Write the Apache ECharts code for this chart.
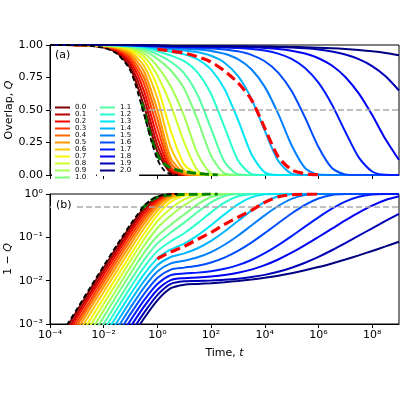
<!DOCTYPE html>
<html>
<head>
<meta charset="utf-8">
<script src="https://cdn.jsdelivr.net/npm/echarts@6/dist/echarts.min.js"></script>
<style>
html, body { margin: 0; padding: 0; background: #fff; }
#chart { width: 400px; height: 400px; }
</style>
</head>
<body>
<div id="chart"></div>
<script>
// time grid, log10(t)
var logT = [-4, -3.5, -3, -2.5, -2, -1.5, -1, -0.5, 0, 0.5, 1, 1.5, 2, 2.5, 3, 3.5, 4, 4.5, 5, 5.5, 6, 6.5, 7, 7.5, 8, 8.5, 9];

// 1 - Q, one array per curve
var d00 = [0.0002, 0.00063, 0.002, 0.0063, 0.0198, 0.0613, 0.181, 0.469, 0.82, 0.982, 0.999, 1, 1, 1, 1, 1, 1, 1, 1, 1, 1, 1, 1, 1, 1, 1, 1];
var d01 = [0.00017, 0.00052, 0.00166, 0.0052, 0.0165, 0.0511, 0.153, 0.408, 0.77, 0.972, 0.998, 1, 1, 1, 1, 1, 1, 1, 1, 1, 1, 1, 1, 1, 1, 1, 1];
var d02 = [0.00014, 0.00044, 0.00138, 0.0044, 0.0137, 0.0427, 0.129, 0.353, 0.71, 0.96, 0.997, 1, 1, 1, 1, 1, 1, 1, 1, 1, 1, 1, 1, 1, 1, 1, 1];
var d03 = [0.00011, 0.00035, 0.00112, 0.0035, 0.0111, 0.0348, 0.106, 0.298, 0.64, 0.94, 0.995, 1, 1, 1, 1, 1, 1, 1, 1, 1, 1, 1, 1, 1, 1, 1, 1];
var d04 = [0.000091, 0.00029, 0.00091, 0.0029, 0.0091, 0.0284, 0.087, 0.25, 0.57, 0.91, 0.992, 1, 1, 1, 1, 1, 1, 1, 1, 1, 1, 1, 1, 1, 1, 1, 1];
var d05 = [0.000072, 0.00023, 0.00072, 0.0023, 0.0072, 0.0225, 0.0695, 0.204, 0.5, 0.87, 0.985, 0.999, 1, 1, 1, 1, 1, 1, 1, 1, 1, 1, 1, 1, 1, 1, 1];
var d06 = [0.000055, 0.00017, 0.00055, 0.00174, 0.0055, 0.0172, 0.0535, 0.16, 0.41, 0.79, 0.965, 0.997, 1, 1, 1, 1, 1, 1, 1, 1, 1, 1, 1, 1, 1, 1, 1];
var d07 = [0.00004, 0.000126, 0.0004, 0.00126, 0.004, 0.0126, 0.0392, 0.119, 0.32, 0.66, 0.92, 0.99, 1, 1, 1, 1, 1, 1, 1, 1, 1, 1, 1, 1, 1, 1, 1];
var d08 = [0.0000288, 0.000091, 0.000288, 0.00091, 0.0029, 0.0092, 0.0291, 0.089, 0.235, 0.464, 0.749, 0.966, 0.9995, 1, 1, 1, 1, 1, 1, 1, 1, 1, 1, 1, 1, 1, 1];
var d09 = [0.0000204, 0.0000645, 0.000204, 0.000645, 0.00206, 0.0065, 0.0208, 0.0633, 0.164, 0.319, 0.549, 0.838, 0.9875, 1, 1, 1, 1, 1, 1, 1, 1, 1, 1, 1, 1, 1, 1];
var d10 = [0.0000145, 0.0000459, 0.000145, 0.000459, 0.00146, 0.00465, 0.0147, 0.0436, 0.107, 0.196, 0.336, 0.576, 0.852, 0.988, 1, 1, 1, 1, 1, 1, 1, 1, 1, 1, 1, 1, 1];
var d11 = [0.00001, 0.0000316, 0.0001, 0.000316, 0.00101, 0.00321, 0.0101, 0.0299, 0.0724, 0.129, 0.218, 0.385, 0.643, 0.898, 0.994, 1, 1, 1, 1, 1, 1, 1, 1, 1, 1, 1, 1];
var d12 = [0.00000708, 0.0000224, 0.0000708, 0.000224, 0.000712, 0.00225, 0.007, 0.0203, 0.048, 0.0808, 0.1245, 0.2124, 0.377, 0.631, 0.886, 0.992, 1, 1, 1, 1, 1, 1, 1, 1, 1, 1, 1];
var d13 = [0.00000501, 0.0000158, 0.0000501, 0.000158, 0.000502, 0.00158, 0.00488, 0.01403, 0.0327, 0.0524, 0.072, 0.111, 0.19, 0.338, 0.574, 0.838, 0.98, 1, 1, 1, 1, 1, 1, 1, 1, 1, 1];
var d14 = [0.00000355, 0.0000112, 0.0000355, 0.000112, 0.000355, 0.00111, 0.00342, 0.00978, 0.0227, 0.0351, 0.0426, 0.0559, 0.0827, 0.136, 0.238, 0.413, 0.659, 0.891, 0.99, 1, 1, 1, 1, 1, 1, 1, 1];
var d15 = [0.00000251, 0.00000794, 0.0000251, 0.0000794, 0.00025, 0.000787, 0.00241, 0.00692, 0.0162, 0.025, 0.0288, 0.0346, 0.0457, 0.0675, 0.109, 0.187, 0.322, 0.528, 0.771, 0.946, 0.997, 1, 1, 1, 1, 1, 1];
var d16 = [0.00000178, 0.00000563, 0.0000178, 0.0000563, 0.000177, 0.000556, 0.00171, 0.0049, 0.01156, 0.018, 0.02, 0.0222, 0.0263, 0.0341, 0.0486, 0.0755, 0.125, 0.212, 0.354, 0.558, 0.785, 0.946, 0.996, 1, 1, 1, 1];
var d17 = [0.00000126, 0.00000398, 0.0000126, 0.0000398, 0.000126, 0.000394, 0.00121, 0.0035, 0.0084, 0.01343, 0.01462, 0.01533, 0.01657, 0.0188, 0.0228, 0.03, 0.043, 0.0662, 0.107, 0.177, 0.29, 0.4575, 0.667, 0.864, 0.973, 0.9986, 1];
var d18 = [0.00000089, 0.00000281, 0.0000089, 0.0000281, 0.000089, 0.000281, 0.00086, 0.00251, 0.00617, 0.01033, 0.01141, 0.0118, 0.01244, 0.01347, 0.0152, 0.018, 0.0228, 0.0308, 0.0441, 0.066, 0.1017, 0.158, 0.246, 0.3725, 0.539, 0.7256, 0.885];
var d19 = [0.00000063, 0.00000199, 0.0000063, 0.0000199, 0.000063, 0.000199, 0.000612, 0.00181, 0.00464, 0.00841, 0.00967, 0.00985, 0.01012, 0.0105, 0.0111, 0.0121, 0.0136, 0.016, 0.0199, 0.0259, 0.0354, 0.0503, 0.0734, 0.1088, 0.162, 0.2404, 0.3497];
var d20 = [0.000000447, 0.00000141, 0.00000447, 0.0000141, 0.0000447, 0.000141, 0.000447, 0.00134, 0.00352, 0.00671, 0.00809, 0.00841, 0.00877, 0.00924, 0.00982, 0.0106, 0.01165, 0.01303, 0.0149, 0.01735, 0.0206, 0.025, 0.0307, 0.0384, 0.0485, 0.0617, 0.0792];

var curveNames = ['0.0', '0.1', '0.2', '0.3', '0.4', '0.5', '0.6', '0.7', '0.8', '0.9', '1.0',
                  '1.1', '1.2', '1.3', '1.4', '1.5', '1.6', '1.7', '1.8', '1.9', '2.0'];
var curves = [d00, d01, d02, d03, d04, d05, d06, d07, d08, d09, d10,
              d11, d12, d13, d14, d15, d16, d17, d18, d19, d20];

// dashed reference curves (1 - Q)
var blackLogT = [-4, -3.5, -3, -2.5, -2, -1.5, -1, -0.5, -0.25, 0, 0.25, 0.5, 0.75];
var blackD = [0.00022, 0.0007, 0.0022, 0.007, 0.022, 0.068, 0.2, 0.53, 0.72, 0.88, 0.965, 0.995, 1];
var greenLogT = [-0.6, -0.5, -0.25, 0, 0.25, 0.5, 0.75, 1, 1.25, 1.5, 1.75, 2, 2.25];
var greenD = [0.44, 0.51, 0.7, 0.85, 0.915, 0.945, 0.963, 0.974, 0.982, 0.988, 0.993, 0.997, 1];
var redLogT = [0, 0.5, 1, 1.5, 2, 2.5, 3, 3.5, 4, 4.5, 5, 5.5, 6];
var redD = [0.032, 0.046, 0.062, 0.09, 0.13, 0.2, 0.29, 0.42, 0.64, 0.86, 0.96, 0.99, 1];

var halfLevel = 0.5;
var xTickExp = [-4, -2, 0, 2, 4, 6, 8];
var yTickExp = [-3, -2, -1, 0];

var FONT = 'DejaVu Sans';
var SUP = { '-': '\u207B', '0': '\u2070', '1': '\u00B9', '2': '\u00B2', '3': '\u00B3', '4': '\u2074',
            '5': '\u2075', '6': '\u2076', '7': '\u2077', '8': '\u2078', '9': '\u2079' };
function powLabel(v) {
    var e = String(Math.round(Math.log10(v)));
    var s = '';
    for (var i = 0; i < e.length; i++) s += SUP[e[i]];
    return '10' + s;
}

// matplotlib jet
function jet(x) {
    var r = x < 0.35 ? 0 : x < 0.66 ? (x - 0.35) / 0.31 : x < 0.89 ? 1 : 1 - 0.5 * (x - 0.89) / 0.11;
    var g = x < 0.125 ? 0 : x < 0.375 ? (x - 0.125) / 0.25 : x < 0.64 ? 1 : x < 0.91 ? 1 - (x - 0.64) / 0.27 : 0;
    var b = x < 0.11 ? 0.5 + 0.5 * x / 0.11 : x < 0.34 ? 1 : x < 0.65 ? 1 - (x - 0.34) / 0.31 : 0;
    return 'rgb(' + Math.round(r * 255) + ',' + Math.round(g * 255) + ',' + Math.round(b * 255) + ')';
}

function pairs(lt, vals, toQ) {
    return lt.map(function (L, j) {
        return [Math.pow(10, L), toQ ? 1 - vals[j] : vals[j]];
    });
}

var series = [];
[0, 1].forEach(function (panel) {
    curves.forEach(function (d, i) {
        var c = jet(1 - i / 20);
        series.push({
            name: curveNames[i], type: 'line', xAxisIndex: panel, yAxisIndex: panel,
            data: pairs(logT, d, panel === 0),
            showSymbol: false, smooth: 0.25,
            lineStyle: { color: c, width: 2 }, itemStyle: { color: c }
        });
    });
    series.push({
        name: 'half', type: 'line', xAxisIndex: panel, yAxisIndex: panel,
        data: [[Math.pow(10, logT[0]), halfLevel], [Math.pow(10, logT[logT.length - 1]), halfLevel]],
        showSymbol: false, lineStyle: { color: '#aaaaaa', width: 1.5, type: [6, 3] }
    });
    series.push({
        name: 'green', type: 'line', xAxisIndex: panel, yAxisIndex: panel,
        data: pairs(greenLogT, greenD, panel === 0),
        showSymbol: false, smooth: 0.25,
        lineStyle: { color: '#008000', width: 3, type: [9, 4] }
    });
    series.push({
        name: 'black', type: 'line', xAxisIndex: panel, yAxisIndex: panel,
        data: pairs(blackLogT, blackD, panel === 0),
        showSymbol: false, smooth: 0.25,
        lineStyle: { color: '#000', width: 1.8, type: [5, 3] }
    });
    series.push({
        name: 'red', type: 'line', xAxisIndex: panel, yAxisIndex: panel,
        data: pairs(redLogT, redD, panel === 0),
        showSymbol: false, smooth: 0.25,
        lineStyle: { color: '#ff0000', width: 3.2, type: [10, 5] }
    });
});

var axisCommon = {
    axisLine: { lineStyle: { color: '#000', width: 1 } },
    splitLine: { show: false },
    nameMoveOverlap: false
};
var labelStyle = { color: '#000', fontSize: 11, fontFamily: FONT };
var legendText = { color: '#000', fontSize: 7, lineHeight: 5.8, fontFamily: FONT };
var italic = { i: { fontStyle: 'italic', fontSize: 11, fontFamily: FONT, color: '#000' } };
var xTicks = xTickExp.map(function (e) { return Math.pow(10, e); });
var yTicks = yTickExp.map(function (e) { return Math.pow(10, e); });

var myChart = echarts.init(document.getElementById('chart'), null, { renderer: 'canvas' });
myChart.setOption({
    animation: false,
    backgroundColor: '#fff',
    textStyle: { fontFamily: FONT },
    title: [
        { text: '(a)', left: 55, top: 50, padding: 0,
          textStyle: { fontSize: 11, fontWeight: 'normal', color: '#000', fontFamily: FONT } },
        { text: '(b)', left: 51, top: 199, padding: [1, 4, 1, 5], backgroundColor: '#fff',
          textStyle: { fontSize: 11, fontWeight: 'normal', color: '#000', fontFamily: FONT } }
    ],
    legend: [
        { data: curveNames.slice(0, 11), left: 52, top: 103, orient: 'vertical', icon: 'rect',
          itemWidth: 15, itemHeight: 2, itemGap: 0, padding: [1, 10, 2, 3], backgroundColor: '#fff',
          selectedMode: false, textStyle: legendText },
        { data: curveNames.slice(11), left: 97, top: 103, orient: 'vertical', icon: 'rect',
          itemWidth: 15, itemHeight: 2, itemGap: 0, padding: [1, 8, 2, 3], backgroundColor: '#fff',
          selectedMode: false, textStyle: legendText }
    ],
    grid: [
        { left: 50, right: 1, top: 45, height: 130, show: true, borderColor: '#000', borderWidth: 1,
          containLabel: false, outerBoundsMode: 'none' },
        { left: 50, right: 1, top: 194, height: 130, show: true, borderColor: '#000', borderWidth: 1,
          containLabel: false, outerBoundsMode: 'none' }
    ],
    xAxis: [
        Object.assign({}, axisCommon, {
            gridIndex: 0, type: 'log', min: 1e-4, max: 1e9,
            axisTick: { length: 4, lineStyle: { color: '#000' }, customValues: xTicks },
            axisLabel: { show: false }
        }),
        Object.assign({}, axisCommon, {
            gridIndex: 1, type: 'log', min: 1e-4, max: 1e9,
            axisTick: { length: 4, lineStyle: { color: '#000' }, customValues: xTicks },
            axisLabel: Object.assign({ margin: 6, formatter: powLabel, customValues: xTicks }, labelStyle),
            name: 'Time, {i|t}', nameLocation: 'middle', nameGap: 24,
            nameTextStyle: Object.assign({ rich: italic }, labelStyle)
        })
    ],
    yAxis: [
        Object.assign({}, axisCommon, {
            gridIndex: 0, type: 'value', min: 0, max: 1, interval: 0.25,
            axisTick: { length: 4, lineStyle: { color: '#000' } },
            axisLabel: Object.assign({ margin: 7, formatter: function (v) { return v.toFixed(2); } }, labelStyle),
            name: 'Overlap, {i|Q}', nameLocation: 'middle', nameGap: 35,
            nameTextStyle: Object.assign({ rich: italic }, labelStyle)
        }),
        Object.assign({}, axisCommon, {
            gridIndex: 1, type: 'log', min: 1e-3, max: 1,
            axisTick: { length: 4, lineStyle: { color: '#000' }, customValues: yTicks },
            axisLabel: Object.assign({ margin: 7, formatter: powLabel, customValues: yTicks }, labelStyle),
            name: '1 \u2212 {i|Q}', nameLocation: 'middle', nameGap: 36,
            nameTextStyle: Object.assign({ rich: italic }, labelStyle)
        })
    ],
    series: series
});
</script>
</body>
</html>
